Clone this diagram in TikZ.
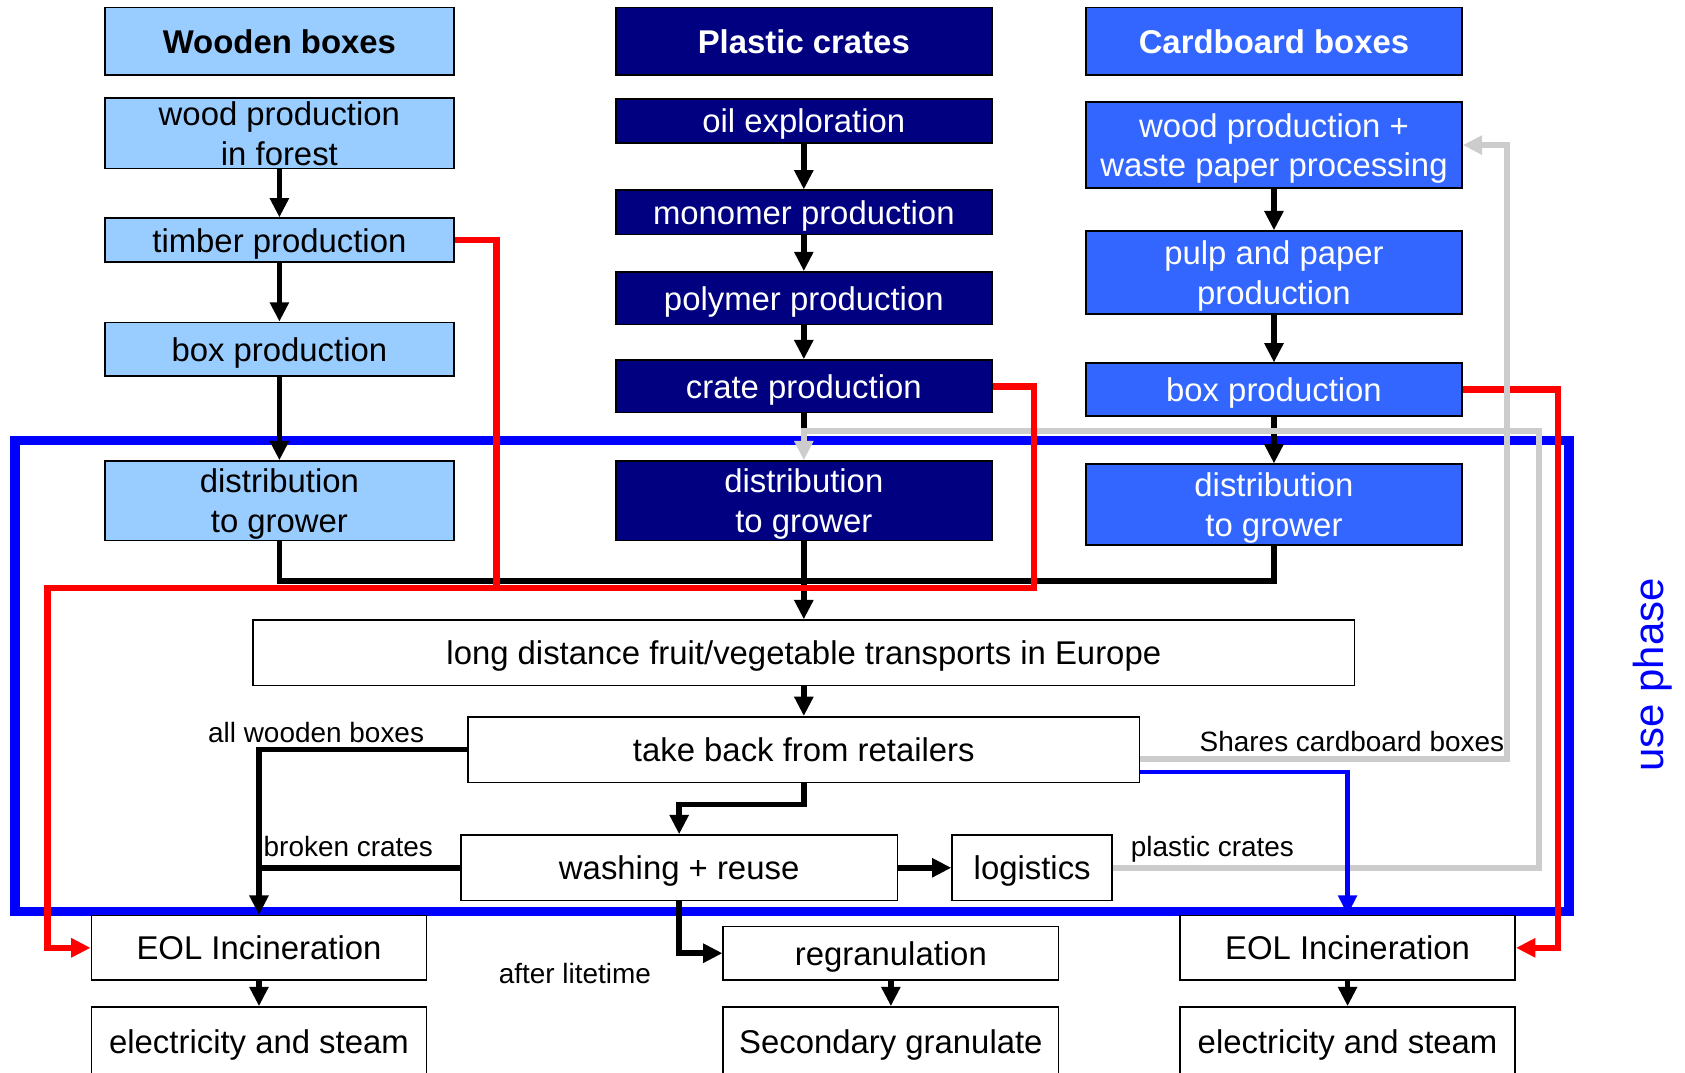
\documentclass[tikz,border=0pt]{standalone}
\usepackage{fontspec}
\setmainfont{Liberation Sans}
\usetikzlibrary{arrows.meta,positioning}

\definecolor{woodblue}{HTML}{99CCFF}
\definecolor{crateblue}{HTML}{000080}
\definecolor{cardblue}{HTML}{3366FF}
\definecolor{loopgrey}{HTML}{CCCCCC}

\begin{document}
\begin{tikzpicture}[x=0.5pt,y=-0.5pt,
    boxtext/.style={font=\fontsize{15.3}{18.5}\selectfont},
    box/.style={draw=black,line width=0.7pt,inner sep=0pt,align=center,text depth=0pt,boxtext},
    woodbox/.style={box,fill=woodblue,minimum width=162.5pt},
    cratebox/.style={box,fill=crateblue,text=white,minimum width=175pt},
    cardbox/.style={box,fill=cardblue,text=white,minimum width=175pt},
    phasebox/.style={box,fill=white},
    headline/.style={font=\fontsize{15.3}{18.5}\selectfont\bfseries,minimum height=31.5pt},
    tag/.style={inner sep=0pt,font=\fontsize{13}{15}\selectfont},
    tip/.style={-{Triangle[length=9pt,width=8.5pt]}},
    flow/.style={line width=2.6pt},
    redflow/.style={line width=3pt,red},
    greyflow/.style={line width=2.8pt,loopgrey},
    blueflow/.style={line width=2pt,blue}]
  \useasboundingbox (0,0) rectangle (1568,998);
  % use phase frame
  \draw[blue,line width=4.3pt] (14,410) rectangle (1460,848);
  \node[rotate=90,blue,font=\fontsize{19.5}{22}\selectfont] (lphase) at (1538,628) {use phase};
  % wooden boxes
  \node[woodbox,headline] (wtitle) at (260,38.5) {Wooden boxes};
  \node[woodbox,minimum height=33pt] (wforest) at (260,124) {wood production\\in forest};
  \node[woodbox,minimum height=20.5pt] (wtimber) at (260,223.5) {timber production};
  \node[woodbox,minimum height=25pt] (wmake) at (260,325) {box production};
  \node[woodbox,minimum height=37pt] (wdist) at (260,466) {distribution\\to grower};
  % plastic crates
  \node[cratebox,headline] (ptitle) at (748,38.5) {Plastic crates};
  \node[cratebox,minimum height=20.5pt] (poil) at (748,112.5) {oil exploration};
  \node[cratebox,minimum height=20.5pt] (pmono) at (748,197.5) {monomer production};
  \node[cratebox,minimum height=24.5pt] (ppoly) at (748,277.5) {polymer production};
  \node[cratebox,minimum height=24.5pt] (pmake) at (748,359.5) {crate production};
  \node[cratebox,minimum height=37pt] (pdist) at (748,466) {distribution\\to grower};
  % cardboard boxes
  \node[cardbox,headline] (ctitle) at (1185.5,38.5) {Cardboard boxes};
  \node[cardbox,minimum height=40pt] (cwood) at (1185.5,135) {wood production +\\waste paper processing};
  \node[cardbox,minimum height=38.5pt] (cpulp) at (1185.5,253.5) {pulp and paper\\production};
  \node[cardbox,minimum height=24.5pt] (cmake) at (1185.5,362.5) {box production};
  \node[cardbox,minimum height=37.5pt] (cdist) at (1185.5,469.5) {distribution\\to grower};
  % use phase
  \node[phasebox,minimum width=512.5pt,minimum height=30.5pt] (transport) at (748,607.5) {long distance fruit/vegetable transports in Europe};
  \node[phasebox,minimum width=312.5pt,minimum height=30.5pt] (takeback) at (748,697.5) {take back from retailers};
  \node[phasebox,minimum width=203pt,minimum height=30.5pt] (washing) at (632,807.5) {washing + reuse};
  \node[phasebox,minimum width=74.5pt,minimum height=30.5pt] (logistics) at (960.5,807.5) {logistics};
  % end of life
  \node[phasebox,minimum width=156pt,minimum height=30pt] (eolwood) at (241,882) {EOL Incineration};
  \node[phasebox,minimum width=156pt,minimum height=32pt] (elecwood) at (241,969) {electricity and steam};
  \node[phasebox,minimum width=156pt,minimum height=25pt] (regran) at (829,887) {regranulation};
  \node[phasebox,minimum width=156pt,minimum height=32pt] (secgran) at (829,969) {Secondary granulate};
  \node[phasebox,minimum width=156pt,minimum height=30pt] (eolcard) at (1254,882) {EOL Incineration};
  \node[phasebox,minimum width=156pt,minimum height=32pt] (eleccard) at (1254,969) {electricity and steam};
  % labels
  \node[tag,anchor=east] (lwood) at (395,682) {all wooden boxes};
  \node[tag,anchor=west] (lbroken) at (245,788) {broken crates};
  \node[tag,anchor=west] (lshares) at (1116,690) {Shares cardboard boxes};
  \node[tag,anchor=west] (lplastic) at (1052,790) {plastic crates};
  \node[tag] (llife) at (535,906) {after litetime};
  % production chains
  \draw[flow,tip] (wforest.south) -- (wtimber.north);
  \draw[flow,tip] (wtimber.south) -- (wmake.north);
  \draw[flow,tip] (wmake.south) -- (wdist.north);
  \draw[flow,tip] (poil.south) -- (pmono.north);
  \draw[flow,tip] (pmono.south) -- (ppoly.north);
  \draw[flow,tip] (ppoly.south) -- (pmake.north);
  \draw[flow,tip] (cwood.south) -- (cpulp.north);
  \draw[flow,tip] (cpulp.south) -- (cmake.north);
  \draw[flow,tip] (cmake.south) -- (cdist.north);
  % to the transports
  \draw[flow] (wdist.south) -- ++(0,37) -| (cdist.south);
  \draw[flow,tip] (pdist.south) -- (transport.north);
  \coordinate (pjoin) at (748,401);
  \draw[flow] (pmake.south) -- (pjoin);
  \draw[greyflow,tip] (logistics.east) -| (1432,401) -- (pjoin) -- (pdist.north);
  % production waste
  \draw[redflow] (wtimber.east) -| (462,547);
  \draw[redflow,tip] (pmake.east) -| (962,547) -- (44,547) |- (eolwood.west);
  \draw[redflow,tip] (cmake.east) -| (1450,882) -- (eolcard.east);
  % returns
  \draw[greyflow,tip] (takeback.east) ++(0,9) -| (1402,135) -- (cwood.east);
  \draw[blueflow,tip] (takeback.east) ++(0,21) -| (eolcard.north);
  \draw[flow,tip] (transport.south) -- (takeback.north);
  \draw[flow,tip] (takeback.south) -- ++(0,20) -| (washing.north);
  \draw[flow,tip] (takeback.west) -| (eolwood.north);
  \draw[flow] (washing.west) -- (eolwood.north |- washing.west);
  \draw[flow,tip] (washing.east) -- (logistics.west);
  \draw[flow,tip] (washing.south) |- (regran.west);
  \draw[flow,tip] (eolwood.south) -- (elecwood.north);
  \draw[flow,tip] (regran.south) -- (secgran.north);
  \draw[flow,tip] (eolcard.south) -- (eleccard.north);
\end{tikzpicture}
\end{document}
